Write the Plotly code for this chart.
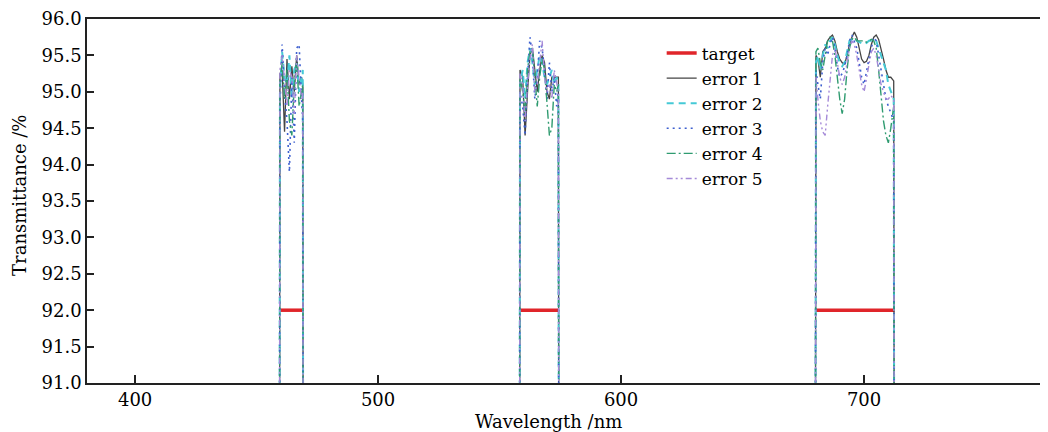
import plotly.graph_objects as go

# ---------------- data ----------------
band1_wl = [459.3, 459.6, 460.5, 461.5, 462.5, 463.5, 464.5, 465.5, 466.5, 467.5, 468.5, 469.0, 469.3]
band2_wl = [558.1, 558.4, 559.5, 560.5, 561.5, 562.5, 563.5, 564.5, 565.5, 566.5, 567.5, 568.5,
            569.5, 570.5, 571.5, 572.5, 573.5, 574.2, 574.5]
band3_wl = [679.8, 680.2, 681, 682, 683, 684, 685, 686, 687, 688, 689, 690, 691, 692, 693, 694, 695,
            696, 697, 698, 699, 700, 701, 702, 703, 704, 705, 706, 707, 708, 709, 710, 711, 712.2, 712.6]

err1_b1 = [85, 95.25, 95.3, 94.45, 95.45, 94.9, 95.35, 95.0, 95.5, 95.1, 95.2, 95.1, 85]
err2_b1 = [85, 95.0, 95.55, 95.2, 95.1, 95.5, 94.9, 95.3, 95.4, 95.0, 95.2, 95.3, 85]
err3_b1 = [85, 94.8, 95.65, 95.0, 94.6, 93.9, 95.2, 94.3, 95.6, 95.65, 94.9, 94.6, 85]
err4_b1 = [85, 95.1, 95.4, 94.9, 95.3, 94.6, 94.4, 95.1, 95.45, 94.8, 95.0, 95.1, 85]
err5_b1 = [85, 95.3, 95.5, 95.1, 94.8, 95.3, 95.2, 94.7, 95.5, 95.2, 94.9, 95.0, 85]

err1_b2 = [85, 95.3, 95.2, 94.4, 95.0, 95.5, 95.6, 95.3, 95.0, 95.3, 95.5, 95.4, 95.0, 94.9, 95.2, 95.2, 95.2, 95.2, 85]
err2_b2 = [85, 95.1, 95.3, 94.9, 95.4, 95.6, 95.4, 95.1, 95.3, 95.5, 95.4, 95.2, 95.1, 95.2, 95.3, 95.1, 95.2, 95.1, 85]
err3_b2 = [85, 95.0, 94.8, 94.4, 95.2, 95.75, 95.5, 94.9, 95.2, 95.7, 95.6, 95.3, 94.9, 95.4, 95.0, 95.2, 94.8, 95.0, 85]
err4_b2 = [85, 95.2, 95.0, 94.7, 95.3, 95.55, 95.6, 95.2, 94.8, 95.2, 95.45, 95.3, 94.9, 94.4, 94.5, 95.1, 95.0, 95.1, 85]
err5_b2 = [85, 95.25, 95.1, 94.6, 95.1, 95.45, 95.65, 95.0, 95.1, 95.4, 95.7, 95.2, 95.0, 95.1, 94.9, 95.3, 95.1, 95.0, 85]

err1_b3 = [85, 95.5, 95.45, 95.2, 95.55, 95.6, 95.7, 95.75, 95.78, 95.7, 95.55, 95.45, 95.4, 95.38, 95.5,
           95.65, 95.75, 95.82, 95.75, 95.6, 95.45, 95.4, 95.42, 95.5, 95.65, 95.75, 95.78, 95.72, 95.6,
           95.45, 95.3, 95.2, 95.2, 95.15, 85]
err2_b3 = [85, 95.4, 95.5, 95.3, 95.5, 95.65, 95.6, 95.7, 95.75, 95.65, 95.5, 95.4, 95.35, 95.4, 95.55,
           95.7, 95.72, 95.75, 95.7, 95.68, 95.66, 95.65, 95.67, 95.7, 95.7, 95.72, 95.7, 95.6, 95.5,
           95.4, 95.3, 95.1, 95.0, 94.9, 85]
err3_b3 = [85, 95.3, 95.1, 94.9, 95.4, 95.6, 95.5, 95.65, 95.75, 95.6, 95.35, 95.2, 95.25, 95.35, 95.5,
           95.7, 95.78, 95.7, 95.6, 95.4, 95.2, 95.1, 95.3, 95.45, 95.6, 95.75, 95.7, 95.5, 95.3,
           95.1, 94.9, 94.8, 94.7, 94.6, 85]
err4_b3 = [85, 95.55, 95.6, 95.4, 95.3, 95.5, 95.7, 95.75, 95.7, 95.5, 95.2, 94.9, 94.7, 94.9, 95.3,
           95.6, 95.72, 95.75, 95.7, 95.7, 95.7, 95.7, 95.68, 95.7, 95.72, 95.7, 95.6, 95.3, 94.9,
           94.6, 94.4, 94.3, 94.5, 94.8, 85]
err5_b3 = [85, 95.2, 94.9, 94.6, 94.45, 94.4, 94.8, 95.2, 95.5, 95.6, 95.4, 95.2, 95.1, 95.2, 95.4,
           95.6, 95.7, 95.65, 95.5, 95.3, 95.1, 95.0, 95.2, 95.4, 95.55, 95.6, 95.5, 95.3, 95.1,
           95.0, 94.9, 94.9, 94.95, 94.9, 85]

target_wl = [459.5, 469.2, None, 558.3, 574.3, None, 680.0, 712.5]
target_val = [92.0, 92.0, None, 92.0, 92.0, None, 92.0, 92.0]

series_names = ["error 1", "error 2", "error 3", "error 4", "error 5"]
x_ticks = [400, 500, 600, 700]
y_ticks = [91.0, 91.5, 92.0, 92.5, 93.0, 93.5, 94.0, 94.5, 95.0, 95.5, 96.0]

# ---------------- figure ----------------
def join(a, b, c):
    return list(a) + [None] + list(b) + [None] + list(c)

wl_all = join(band1_wl, band2_wl, band3_wl)
series_vals = [
    join(err1_b1, err1_b2, err1_b3),
    join(err2_b1, err2_b2, err2_b3),
    join(err3_b1, err3_b2, err3_b3),
    join(err4_b1, err4_b2, err4_b3),
    join(err5_b1, err5_b2, err5_b3),
]
styles = [
    dict(color="#454545", width=1.3, dash="solid"),
    dict(color="#45c9d6", width=2.0, dash="7px,5px"),
    dict(color="#3d5fcf", width=1.6, dash="2px,4px"),
    dict(color="#2f9b70", width=1.4, dash="9px,3px,2px,3px"),
    dict(color="#a58ad8", width=1.4, dash="6px,3px,2px,3px,2px,3px"),
]

fig = go.Figure()
fig.add_trace(go.Scatter(x=target_wl, y=target_val, mode="lines", name="target",
                         line=dict(color="#e0252a", width=3.5), connectgaps=False))
for name, vals, st in zip(series_names, series_vals, styles):
    fig.add_trace(go.Scatter(x=wl_all, y=vals, mode="lines", name=name, line=st,
                             connectgaps=False))

font_family = "DejaVu Serif"
# page body has an 8px margin, so the figure is sized to end at the window edge
fig.update_layout(
    width=1040, height=424,
    margin=dict(l=79, r=0, t=11, b=49),
    paper_bgcolor="white", plot_bgcolor="white",
    font=dict(family=font_family, size=18, color="black"),
    showlegend=True,
    legend=dict(x=0.598, y=0.955, xanchor="left", yanchor="top",
                bgcolor="rgba(0,0,0,0)", font=dict(size=17, family=font_family),
                tracegroupgap=0, itemwidth=30),
    annotations=[
        dict(text="Wavelength /nm", x=0.4807, y=-0.107, xref="paper", yref="paper",
             xanchor="center", yanchor="middle", showarrow=False,
             font=dict(size=18, family=font_family)),
        dict(text="Transmittance /%", x=-0.071, y=0.516, xref="paper", yref="paper",
             xanchor="center", yanchor="middle", textangle=-90, showarrow=False,
             font=dict(size=18, family=font_family)),
    ],
)
fig.update_xaxes(range=[380.2, 775.7], tickvals=x_ticks, ticks="inside", ticklen=8,
                 tickwidth=1.5, tickcolor="#222", showline=True, linecolor="#222",
                 linewidth=1.5, mirror=True, showgrid=False, zeroline=False,
                 tickfont=dict(size=18))
fig.update_yaxes(range=[91.0, 96.0], tickvals=y_ticks, tickformat=".1f", ticks="inside",
                 ticklen=7, tickwidth=1.5, tickcolor="#222", showline=True,
                 linecolor="#222", linewidth=1.5, mirror=False, showgrid=False,
                 zeroline=False, tickfont=dict(size=18))

fig.write_html("out.html")
